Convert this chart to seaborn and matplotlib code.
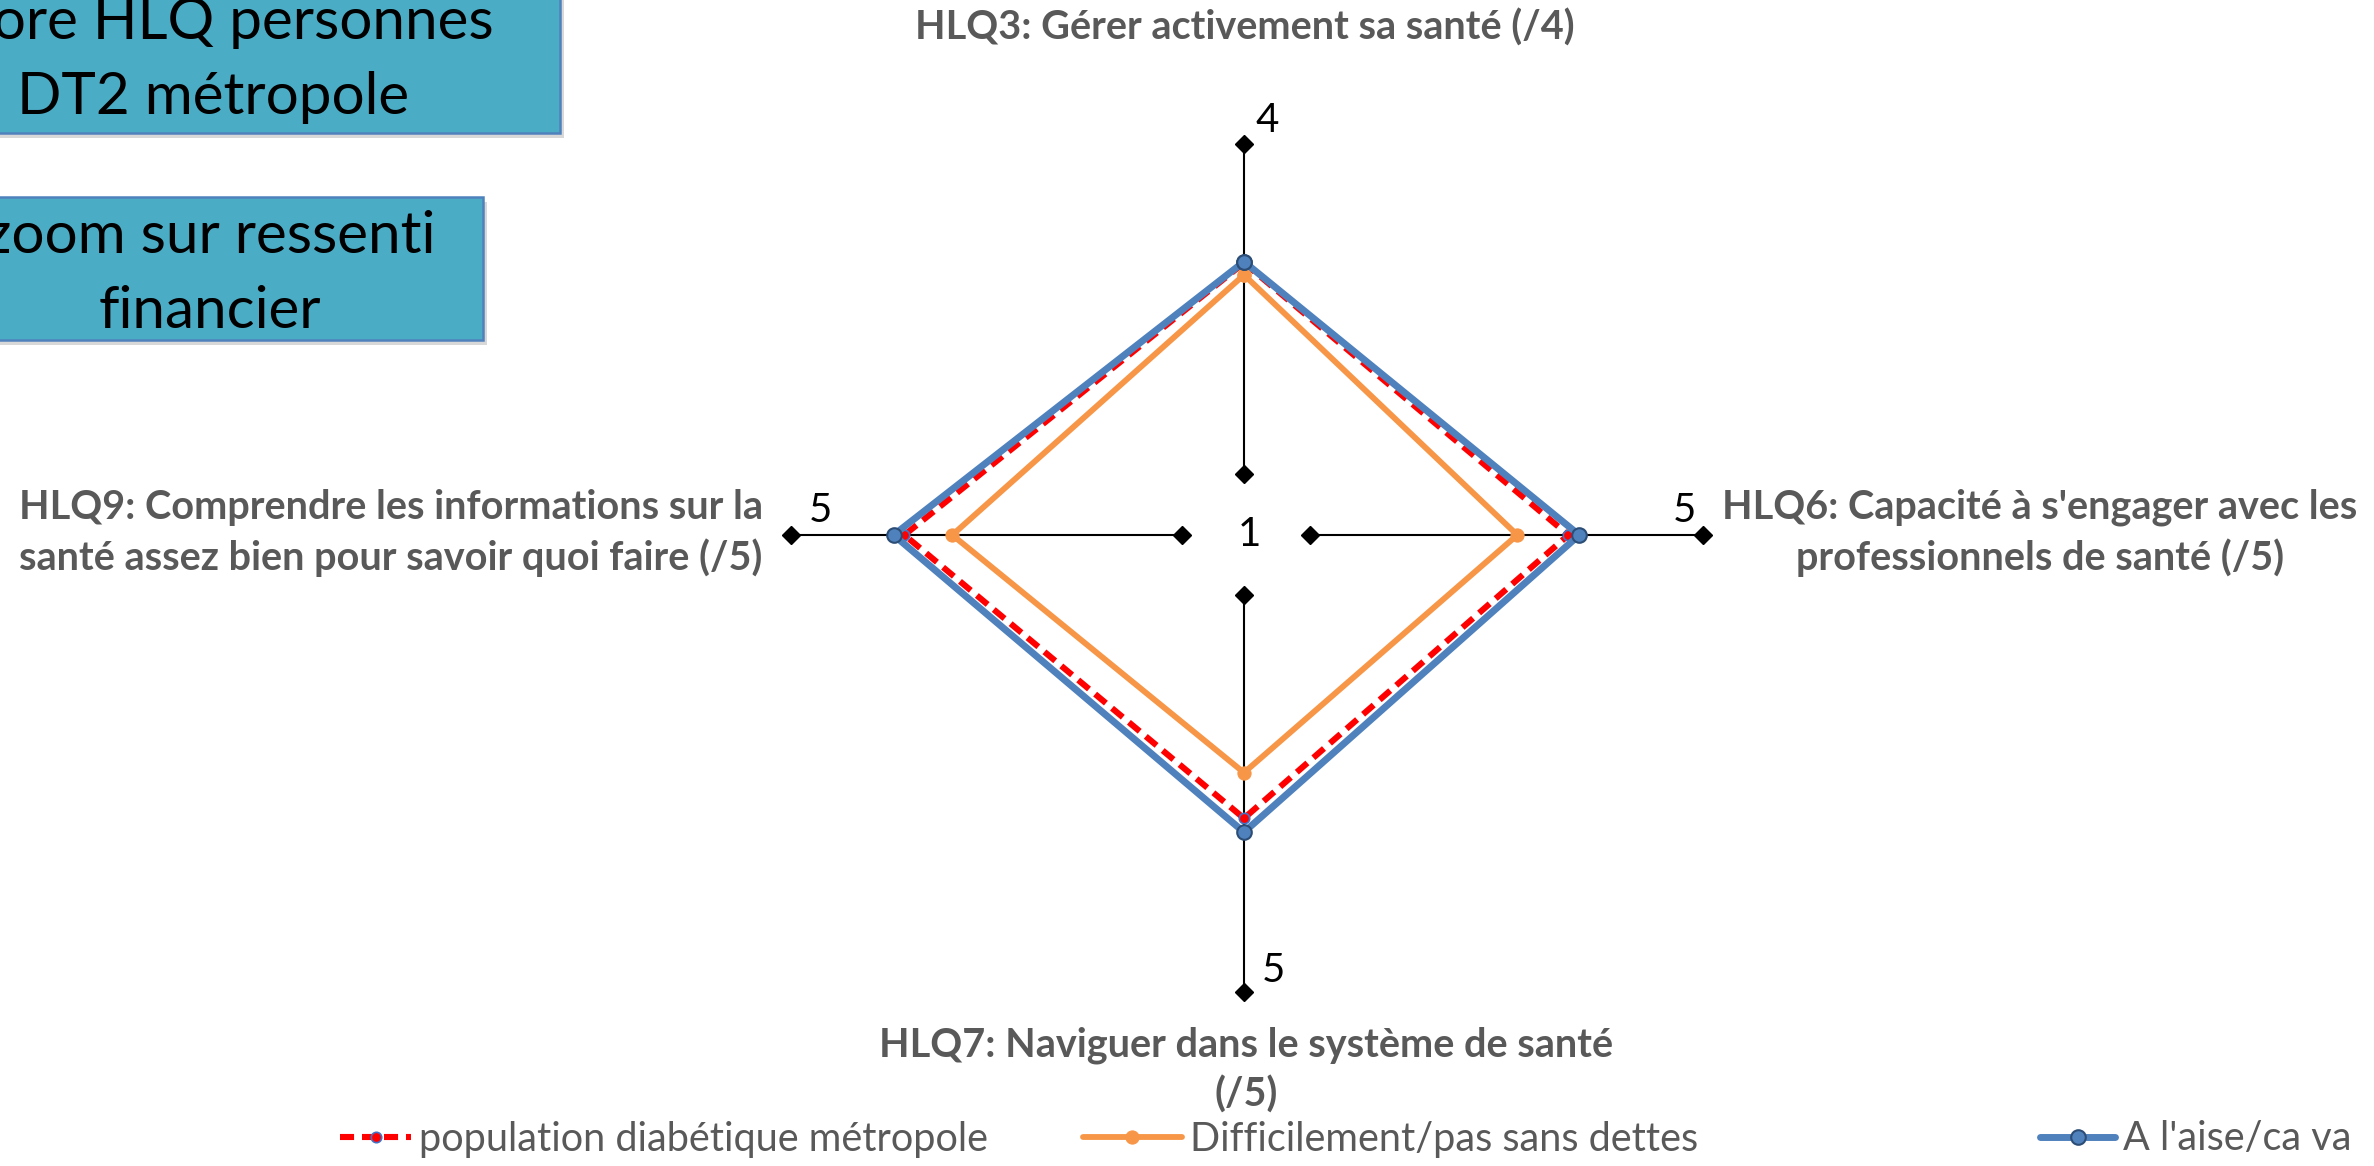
import numpy as np
import pandas as pd
import seaborn as sns
import matplotlib.pyplot as plt
from matplotlib.patches import Rectangle

# chart dimensions, clockwise from the top
dimensions = [
    "HLQ3: Gérer activement sa santé (/4)",
    "HLQ6: Capacité à s'engager avec les\nprofessionnels de santé (/5)",
    "HLQ7: Naviguer dans le système de santé\n(/5)",
    "HLQ9: Comprendre les informations sur la\nsanté assez bien pour savoir quoi faire (/5)",
]
scale_min = [1, 1, 1, 1]
scale_max = [4, 5, 5, 5]

series_names = ["population diabétique métropole",
                "Difficilement/pas sans dettes",
                "A l'aise/ca va"]
population = [2.92, 3.63, 3.25, 3.84]
difficile = [2.81, 3.11, 2.79, 3.35]
aise = [2.93, 3.74, 3.39, 3.95]

box_texts = ["Score HLQ personnes\nDT2 métropole", "zoom sur ressenti\nfinancier"]

sns.set_theme(style="white")
plt.rcParams["font.family"] = ["Lato", "DejaVu Sans"]

W, H = 2374, 1166
fig = plt.figure(figsize=(W / 100, H / 100), dpi=100)
ax = fig.add_axes([0, 0, 1, 1])

# layout of the four spokes (pixel space)
cx, cy = 1244, 535
directions = [(0, -1), (1, 0), (0, 1), (-1, 0)]
r_inner = [61, 66, 60, 62]
r_outer = [391, 459, 457, 453]


def point(i, v):
    frac = (v - scale_min[i]) / (scale_max[i] - scale_min[i])
    r = r_inner[i] + frac * (r_outer[i] - r_inner[i])
    return cx + directions[i][0] * r, cy + directions[i][1] * r


def polygon(values):
    pts = [point(i, v) for i, v in enumerate(values)]
    pts.append(pts[0])
    return pd.DataFrame(pts, columns=["x", "y"])


# spokes with diamond ends
for i in range(4):
    x0, y0 = point(i, scale_min[i])
    x1, y1 = point(i, scale_max[i])
    ax.plot([x0, x1], [y0, y1], color="black", lw=1.5, marker="D", ms=9, zorder=1)

tick_offsets = [(23, -23), (-19, -24), (29, -22), (29, -24)]
for i in range(4):
    x1, y1 = point(i, scale_max[i])
    ax.text(x1 + tick_offsets[i][0], y1 + tick_offsets[i][1], str(scale_max[i]),
            ha="center", va="center", fontsize=29, color="black")
ax.text(cx + 5, cy, str(scale_min[0]), ha="center", va="center", fontsize=29, color="black")

# series
styles = [
    dict(color="#FF0000", lw=4.4, linestyle=(0, (2.3, 1.3)), marker="o", ms=7.5,
         markerfacecolor="#FF0000", markeredgecolor="#4472C4", markeredgewidth=1.2),
    dict(color="#F79646", lw=4.2, marker="o", ms=9.5,
         markerfacecolor="#F79646", markeredgecolor="#F79646"),
    dict(color="#4F81BD", lw=5, marker="o", ms=10.5,
         markerfacecolor="#4F81BD", markeredgecolor="#2C4D75", markeredgewidth=1.5),
]
handles = []
for vals, name, st in zip([population, difficile, aise], series_names, styles):
    df = polygon(vals)
    sns.lineplot(data=df, x="x", y="y", sort=False, estimator=None, ax=ax,
                 zorder=3, **st)
    line = ax.lines[-1]
    line.set_label(name)
    handles.append(line)
if ax.get_legend() is not None:
    ax.get_legend().remove()
ax.set_xlim(0, W)
ax.set_ylim(H, 0)
ax.axis("off")

# dimension titles
title_pos = [(1245, 28), (2040, 533), (1246, 1070), (391, 533)]
for (tx, ty), lab in zip(title_pos, dimensions):
    ax.text(tx, ty, lab, ha="center", va="center", fontsize=28.5, fontweight="bold",
            color="#595959", linespacing=1.4)

# boxes in the upper left
boxes = [(-134, -10, 694, 143), (-63, 197, 546, 143)]
box_centers = [(213, 60), (210, 274)]
for (bx, by, bw, bh), (tx, ty), txt in zip(boxes, box_centers, box_texts):
    ax.add_patch(Rectangle((bx + 4, by + 5), bw, bh, facecolor="#BFBFBF", edgecolor="none",
                           alpha=0.6, zorder=4))
    ax.add_patch(Rectangle((bx, by), bw, bh, facecolor="#4BACC6", edgecolor="#4F81BD",
                           lw=1.8, zorder=5))
    ax.text(tx, ty, txt, ha="center", va="center", fontsize=42, color="black",
            linespacing=1.5, zorder=6)

# legend, one entry each
legend_x = [340, 1083, 2040]
handle_len = [1.8, 2.5, 1.9]
for h, lx, hl in zip(handles, legend_x, handle_len):
    fig.legend(handles=[h], loc="center left", bbox_to_anchor=(lx / W, 1 - 1139 / H),
               frameon=False, fontsize=28.5, handlelength=hl, handletextpad=0.2,
               borderpad=0, borderaxespad=0, numpoints=1, labelcolor="#595959")

fig.savefig("out.png", dpi=100)
